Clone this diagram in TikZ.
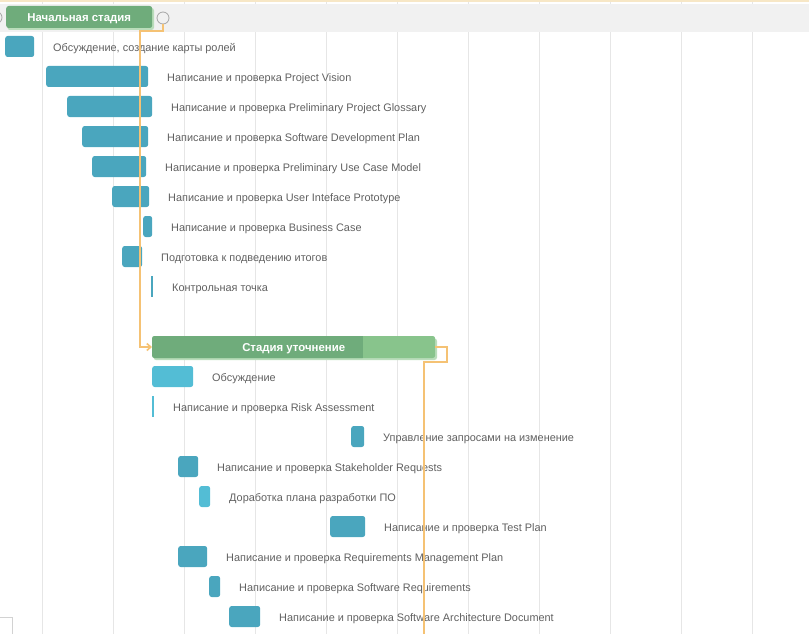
\documentclass[tikz,border=0pt]{standalone}
\usepackage{fontspec}
\setmainfont{Liberation Sans}
\usetikzlibrary{arrows.meta}
\definecolor{gridc}{HTML}{E6E6E6}
\definecolor{headbg}{HTML}{F1F1F1}
\definecolor{headline}{HTML}{F7E7C6}
\definecolor{teal}{HTML}{4AA6BE}
\definecolor{cyanbar}{HTML}{53BDD5}
\definecolor{sumdark}{HTML}{6FAC7B}
\definecolor{sumlight}{HTML}{88C48C}
\definecolor{sumrim}{HTML}{BADDBB}
\definecolor{linkc}{HTML}{F5C274}
\definecolor{labelc}{HTML}{606060}
\begin{document}
\begin{tikzpicture}[x=1pt,y=-1pt,
  taskbar/.style={rectangle,rounded corners=2.5pt,fill=teal,inner sep=0pt,
    minimum height=21pt,anchor=west},
  lightbar/.style={taskbar,fill=cyanbar},
  tasklabel/.style={anchor=base west,inner sep=0pt,text=labelc,yshift=-4.7pt,
    font=\fontsize{10.9}{12}\selectfont},
  sumbar/.style={rectangle,rounded corners=2.5pt,fill=sumdark,inner sep=0pt,
    minimum height=22pt,anchor=west},
  sumtext/.style={anchor=base,text=white,inner sep=0pt,yshift=-4.6pt,
    font=\fontsize{11.4}{14}\selectfont\bfseries},
  conn/.style={draw=linkc,line width=1.6pt},
  milestone/.style={circle,draw=gray!70,line width=0.8pt,minimum size=12pt,inner sep=0pt}
]
\useasboundingbox (0,0) rectangle (809,634);
\clip (0,0) rectangle (809,634);

% timeline grid
\foreach \gx in {42.5,113.5,184.5,255.5,326.5,397.5,468.5,539.5,610.5,681.5,752.5}
  \draw[gridc,line width=0.8pt] (\gx,0) -- (\gx,634);

% header band
\fill[headbg] (0,4) rectangle (809,32);
\fill[headline] (0,0) rectangle (809,1.6);

% scrollbar corner
\draw[gray!35,line width=0.6pt] (0,617.5) -| (12,634);

% phase 1 summary
\node[milestone] (m0) at (-4,17.5) {};
\fill[sumrim,rounded corners=2.5pt] (7.5,8) rectangle (154,30);
\node[sumbar,minimum width=146pt] (s1) at (6,17) {};
\node[sumtext] (s1t) at (s1.center) {Начальная стадия};
\node[milestone] (m1) at (163,18) {};

% phase 1 tasks
\node[taskbar,minimum width=29pt]  (t1) at (5,46.5) {};
\node[tasklabel] (l1) at (53,46.5) {Обсуждение, создание карты ролей};
\node[taskbar,minimum width=102pt] (t2) at (46,76.5) {};
\node[tasklabel] (l2) at (167,76.5) {Написание и проверка Project Vision};
\node[taskbar,minimum width=85pt]  (t3) at (67,106.5) {};
\node[tasklabel] (l3) at (171,106.5) {Написание и проверка Preliminary Project Glossary};
\node[taskbar,minimum width=66pt]  (t4) at (82,136.5) {};
\node[tasklabel] (l4) at (167,136.5) {Написание и проверка Software Development Plan};
\node[taskbar,minimum width=54pt]  (t5) at (92,166.5) {};
\node[tasklabel] (l5) at (165,166.5) {Написание и проверка Preliminary Use Case Model};
\node[taskbar,minimum width=37pt]  (t6) at (112,196.5) {};
\node[tasklabel] (l6) at (168,196.5) {Написание и проверка User Inteface Prototype};
\node[taskbar,minimum width=9pt]   (t7) at (143,226.5) {};
\node[tasklabel] (l7) at (171,226.5) {Написание и проверка Business Case};
\node[taskbar,minimum width=20pt]  (t8) at (122,256.5) {};
\node[tasklabel] (l8) at (161,256.5) {Подготовка к подведению итогов};
\node[taskbar,minimum width=2.2pt,rounded corners=0pt] (t9) at (151,286.5) {};
\node[tasklabel] (l9) at (172,286.5) {Контрольная точка};

% phase 2 summary with progress
\fill[sumrim,rounded corners=2.5pt] (153.5,338.5) rectangle (437,360);
\node[sumbar,fill=sumlight,minimum width=283pt] (s2) at (152,347) {};
\fill[sumdark,rounded corners=2.5pt] (152,336) rectangle (365,358);
\fill[sumdark] (360,336) rectangle (363,358);
\fill[sumlight] (363,336) rectangle (366,358);
\node[sumtext] (s2t) at (s2.center) {Стадия уточнение};

% phase 2 tasks
\node[lightbar,minimum width=41pt] (u1) at (152,376.5) {};
\node[tasklabel] (k1) at (212,376.5) {Обсуждение};
\node[lightbar,minimum width=2.2pt,rounded corners=0pt] (u2) at (152,406.5) {};
\node[tasklabel] (k2) at (173,406.5) {Написание и проверка Risk Assessment};
\node[taskbar,minimum width=13pt]  (u3) at (351,436.5) {};
\node[tasklabel] (k3) at (383,436.5) {Управление запросами на изменение};
\node[taskbar,minimum width=20pt]  (u4) at (178,466.5) {};
\node[tasklabel] (k4) at (217,466.5) {Написание и проверка Stakeholder Requests};
\node[lightbar,minimum width=11pt] (u5) at (199,496.5) {};
\node[tasklabel] (k5) at (229,496.5) {Доработка плана разработки ПО};
\node[taskbar,minimum width=35pt]  (u6) at (330,526.5) {};
\node[tasklabel] (k6) at (384,526.5) {Написание и проверка Test Plan};
\node[taskbar,minimum width=29pt]  (u7) at (178,556.5) {};
\node[tasklabel] (k7) at (226,556.5) {Написание и проверка Requirements Management Plan};
\node[taskbar,minimum width=11pt]  (u8) at (209,586.5) {};
\node[tasklabel] (k8) at (239,586.5) {Написание и проверка Software Requirements};
\node[taskbar,minimum width=31pt]  (u9) at (229,616.5) {};
\node[tasklabel] (k9) at (279,616.5) {Написание и проверка Software Architecture Document};

% dependency links
\coordinate (c1) at (140,31);
\draw[conn,-{Straight Barb[length=4pt,width=7pt]}] (m1.south) |- (c1) |- (s2.west);
\coordinate (c2) at (447,347);
\coordinate (c3) at (424,362);
\coordinate (c4) at (424,634);
\draw[conn] (s2.east) -- (c2) |- (c3) -- (c4);
\end{tikzpicture}
\end{document}
